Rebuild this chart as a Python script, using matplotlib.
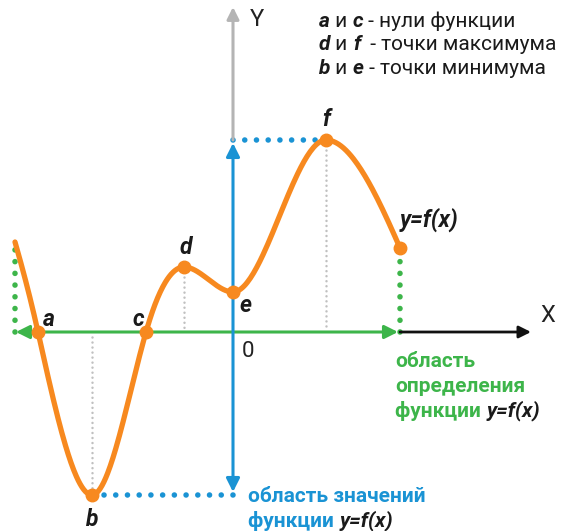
import numpy as np
import matplotlib.pyplot as plt

plt.rcParams['font.family'] = ['Roboto', 'DejaVu Sans']

# key points of the function (x, y) with the slope of the curve in each point
key_x = [-218, -195, -141, -87, -49, 0, 93, 167]
key_y = [90, 0, -163, 0, 65, 40, 192, 84]
key_slope = [-3.5, -4.5, 0.0, 3.5, 0.0, 0.0, 0.0, -2.3]

# labelled points
point_names = ['a', 'b', 'c', 'd', 'e', 'f', '']
point_idx = [1, 2, 3, 4, 5, 6, 7]

ORANGE = '#F7891F'
GREEN = '#3DB54A'
BLUE = '#1A93D4'
GRAY = '#B4B4B4'
DARK = '#1a1a1a'


def hermite(xs, ys, ms, n=60):
    px, py = [], []
    for i in range(len(xs) - 1):
        x0, x1 = xs[i], xs[i + 1]
        h = x1 - x0
        t = np.linspace(0, 1, n)
        h00 = 2 * t**3 - 3 * t**2 + 1
        h10 = t**3 - 2 * t**2 + t
        h01 = -2 * t**3 + 3 * t**2
        h11 = t**3 - t**2
        px.extend(x0 + t * h)
        py.extend(h00 * ys[i] + h10 * h * ms[i] + h01 * ys[i + 1] + h11 * h * ms[i + 1])
    return np.array(px), np.array(py)


def chain(ax, x, y, pieces, size, color_main):
    # draws text pieces one after the other on one baseline
    prev = None
    for s, styled, col in pieces:
        kw = dict(fontsize=size, color=col or color_main, va='bottom', ha='left')
        if styled == 'bi':
            kw.update(fontweight='bold', style='italic')
        elif styled == 'b':
            kw.update(fontweight='bold')
        if prev is None:
            prev = ax.text(x, y, s, **kw)
        else:
            prev = ax.annotate(s, xy=(1, 0), xycoords=prev, **kw)


def main():
    fig = plt.figure(figsize=(5.7, 5.31), dpi=100)
    ax = fig.add_axes([0, 0, 1, 1])
    ax.set_xlim(-233, 337)
    ax.set_ylim(-199, 332)
    ax.axis('off')

    x0, x1 = key_x[0], key_x[-1]
    y_end0, y_end1 = key_y[0], key_y[-1]
    ymin, ymax = min(key_y), max(key_y)
    xb, xd, xf = key_x[2], key_x[4], key_x[6]

    # axes
    ax.annotate('', xy=(0, 325), xytext=(0, ymax),
                arrowprops=dict(arrowstyle='-|>', color=GRAY, lw=2.2,
                                mutation_scale=18, shrinkA=0, shrinkB=0))
    ax.annotate('', xy=(298, 0), xytext=(x1, 0),
                arrowprops=dict(arrowstyle='-|>', color='#111111', lw=2,
                                mutation_scale=18, shrinkA=0, shrinkB=0))

    # domain (green) and range (blue)
    ax.annotate('', xy=(x0 + 1, 0), xytext=(x1 - 2, 0),
                arrowprops=dict(arrowstyle='<|-|>', color=GREEN, lw=2.2,
                                mutation_scale=20, shrinkA=0, shrinkB=0))
    ax.annotate('', xy=(0, ymax - 3), xytext=(0, ymin + 3),
                arrowprops=dict(arrowstyle='<|-|>', color=BLUE, lw=2.2,
                                mutation_scale=20, shrinkA=0, shrinkB=0))

    dots = dict(lw=4, linestyle=(0, (0.01, 2.1)), dash_capstyle='round')
    ax.plot([x0, x0], [0, y_end0 - 4], color=GREEN, **dots)
    ax.plot([x1, x1], [0, y_end1], color=GREEN, **dots)
    ax.plot([0, xf - 8], [ymax, ymax], color=BLUE, **dots)
    ax.plot([xb + 12, 0], [ymin, ymin], color=BLUE, **dots)

    thin = dict(lw=1.8, color='#C0C0C0', linestyle=(0, (0.01, 2.0)), dash_capstyle='round')
    ax.plot([xb, xb], [-5, ymin + 5], **thin)
    ax.plot([xd, xd], [key_y[4], 2], **thin)
    ax.plot([xf, xf], [ymax, 2], **thin)

    # the function
    cx, cy = hermite(key_x, key_y, key_slope)
    ax.plot(cx, cy, color=ORANGE, lw=3.8, solid_capstyle='round', zorder=5)
    mx = [key_x[i] for i in point_idx]
    my = [key_y[i] for i in point_idx]
    ax.plot(mx, my, 'o', color=ORANGE, ms=9, zorder=6)

    # point labels
    lab = dict(fontsize=16.5, fontweight='bold', style='italic', color=DARK,
               textcoords='offset pixels', ha='center', va='center', zorder=7)
    offsets = {'a': (11, 12), 'b': (0, -24), 'c': (-8, 12), 'd': (2, 19),
               'e': (13, -13), 'f': (0, 20)}
    for name, i in zip(point_names, point_idx):
        if name:
            ax.annotate(name, (key_x[i], key_y[i]), xytext=offsets[name], **lab)
    ax.annotate('y=f(x)', (x1, y_end1), xytext=(0, 28), fontsize=16.5,
                fontweight='bold', style='italic', color=DARK,
                textcoords='offset pixels', ha='left', va='center')

    # axis names
    ax.text(17, 313, 'Y', fontsize=17, color='#222222', ha='left', va='center')
    ax.text(315, 17, 'X', fontsize=17, color='#222222', ha='center', va='center')
    ax.text(9, -9, '0', fontsize=16, color='#222222', ha='left', va='top')

    # domain / range captions
    gx = x1 - 5
    chain(ax, gx, -39, [('область', 'b', None)], 15, GREEN)
    chain(ax, gx, -64, [('определения', 'b', None)], 15, GREEN)
    chain(ax, gx, -89, [('функции ', 'b', None), ('y=f(x)', 'bi', DARK)], 15, GREEN)
    chain(ax, 15, -174, [('область значений', 'b', None)], 15, BLUE)
    chain(ax, 15, -199, [('функции ', 'b', None), ('y=f(x)', 'bi', DARK)], 15, BLUE)

    # legend in the top right corner
    rows = [[('a', 'bi', None), (' и ', '', None), ('c', 'bi', None), (' - нули функции', '', None)],
            [('d', 'bi', None), (' и ', '', None), ('f', 'bi', None), ('  - точки максимума', '', None)],
            [('b', 'bi', None), (' и ', '', None), ('e', 'bi', None), (' - точки минимума', '', None)]]
    for r, row in enumerate(rows):
        chain(ax, 86, 301 - r * 23.5, row, 15, DARK)

    fig.savefig('out.png', dpi=100)


if __name__ == '__main__':
    main()
